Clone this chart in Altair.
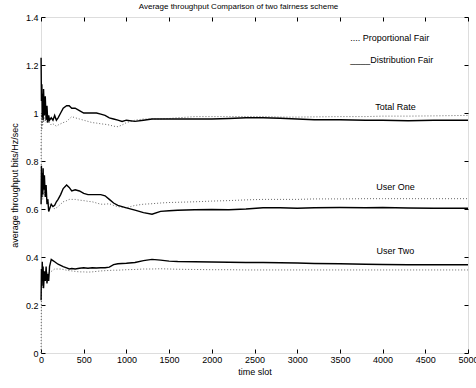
import altair as alt
import pandas as pd

times = [1, 5, 10, 15, 20, 25, 30, 40, 50, 60, 70, 80, 90, 100, 120, 140, 160, 180, 200,
         230, 260, 300, 330, 360, 400, 450, 500, 550, 600, 650, 700, 750, 800, 850, 900,
         950, 1000, 1100, 1200, 1300, 1400, 1500, 1600, 1800, 2000, 2200, 2400, 2600,
         2800, 3000, 3200, 3500, 3800, 4000, 4300, 4600, 5000]

total_df = [1.23, 1.05, 1.12, 0.98, 1.08, 0.97, 1.10, 0.99, 1.07, 0.97, 1.03, 0.96, 0.99, 0.97,
            0.98, 0.97, 0.99, 0.97, 0.98, 1.00, 1.02, 1.03, 1.03, 1.02, 1.02, 1.01, 1.00, 1.00,
            1.00, 1.00, 0.995, 0.99, 0.98, 0.975, 0.97, 0.965, 0.97, 0.965, 0.97, 0.975, 0.975,
            0.975, 0.975, 0.975, 0.975, 0.977, 0.98, 0.98, 0.978, 0.975, 0.972, 0.972, 0.97,
            0.97, 0.968, 0.97, 0.97]
total_pf = [0.85, 1.00, 0.93, 0.98, 0.95, 0.99, 0.96, 0.98, 0.97, 0.96, 0.97, 0.96, 0.97, 0.96,
            0.95, 0.955, 0.95, 0.945, 0.95, 0.955, 0.96, 0.965, 0.975, 0.985, 0.98, 0.975, 0.97,
            0.965, 0.96, 0.958, 0.955, 0.953, 0.95, 0.945, 0.943, 0.95, 0.96, 0.97, 0.975, 0.975,
            0.975, 0.977, 0.98, 0.985, 0.985, 0.985, 0.985, 0.985, 0.983, 0.983, 0.984, 0.985,
            0.985, 0.987, 0.987, 0.988, 0.99]
one_df = [0.62, 0.78, 0.65, 0.75, 0.66, 0.77, 0.68, 0.74, 0.65, 0.70, 0.62, 0.64, 0.59, 0.60,
          0.62, 0.61, 0.615, 0.63, 0.64, 0.66, 0.685, 0.70, 0.69, 0.675, 0.68, 0.675, 0.665,
          0.66, 0.66, 0.66, 0.66, 0.655, 0.64, 0.625, 0.615, 0.61, 0.605, 0.595, 0.585, 0.578,
          0.59, 0.593, 0.595, 0.597, 0.598, 0.597, 0.60, 0.605, 0.605, 0.603, 0.605, 0.606,
          0.605, 0.606, 0.604, 0.603, 0.603]
one_pf = [0.85, 0.72, 0.68, 0.70, 0.64, 0.69, 0.66, 0.67, 0.65, 0.66, 0.63, 0.64, 0.62, 0.62,
          0.615, 0.61, 0.60, 0.605, 0.61, 0.62, 0.63, 0.635, 0.64, 0.64, 0.64, 0.637, 0.635,
          0.632, 0.63, 0.625, 0.62, 0.62, 0.622, 0.615, 0.61, 0.607, 0.605, 0.615, 0.62, 0.622,
          0.625, 0.627, 0.628, 0.63, 0.633, 0.635, 0.638, 0.64, 0.64, 0.64, 0.642, 0.642,
          0.643, 0.643, 0.643, 0.643, 0.643]
two_df = [0.22, 0.35, 0.28, 0.38, 0.30, 0.36, 0.27, 0.34, 0.30, 0.36, 0.29, 0.33, 0.30, 0.36,
          0.39, 0.385, 0.38, 0.375, 0.37, 0.365, 0.36, 0.355, 0.35, 0.352, 0.35, 0.353, 0.355,
          0.353, 0.355, 0.354, 0.355, 0.355, 0.358, 0.368, 0.372, 0.373, 0.374, 0.377, 0.385,
          0.39, 0.387, 0.383, 0.381, 0.38, 0.379, 0.378, 0.377, 0.377, 0.376, 0.375, 0.373,
          0.372, 0.37, 0.369, 0.368, 0.368, 0.368]
two_pf = [0.0, 0.25, 0.30, 0.27, 0.32, 0.29, 0.31, 0.32, 0.33, 0.32, 0.33, 0.335, 0.33, 0.335,
          0.34, 0.345, 0.35, 0.35, 0.35, 0.35, 0.348, 0.345, 0.343, 0.342, 0.34, 0.338, 0.338,
          0.337, 0.338, 0.34, 0.342, 0.343, 0.344, 0.345, 0.345, 0.346, 0.347, 0.348, 0.35,
          0.35, 0.351, 0.35, 0.349, 0.348, 0.347, 0.347, 0.346, 0.346, 0.346, 0.346, 0.346,
          0.346, 0.346, 0.346, 0.346, 0.346, 0.346]

x_ticks = [0, 500, 1000, 1500, 2000, 2500, 3000, 3500, 4000, 4500, 5000]
y_ticks = [0, 0.2, 0.4, 0.6, 0.8, 1.0, 1.2, 1.4]

labels = ["Total Rate", "User One", "User Two"]
label_t = [4150, 4150, 4150]
label_v = [1.025, 0.69, 0.426]

legend_text = [".... Proportional Fair", "____Distribution Fair"]
legend_t = [3620, 3620]
legend_v = [1.314, 1.22]

title = "Average throughput Comparison of two fairness scheme"

FONT = "Liberation Sans"

rows_df, rows_pf = [], []
for name, dfv, pfv in [("total", total_df, total_pf), ("one", one_df, one_pf), ("two", two_df, two_pf)]:
    for t, a, b in zip(times, dfv, pfv):
        rows_df.append({"t": t, "v": a, "s": name})
        rows_pf.append({"t": t, "v": b, "s": name})
df_df = pd.DataFrame(rows_df)
df_pf = pd.DataFrame(rows_pf)
lab = pd.DataFrame({"t": label_t, "v": label_v, "txt": labels})
leg = pd.DataFrame({"t": legend_t, "v": legend_v, "txt": legend_text})

xs = alt.Scale(domain=[0, 5000], nice=False, zero=False)
ys = alt.Scale(domain=[0, 1.4], nice=False)

common_axis = dict(offset=-4, tickSize=4, domain=False, grid=False, tickColor="black",
                   labelFont=FONT, labelFontSize=9, labelColor="black",
                   titleFont=FONT, titleFontSize=9, titleColor="black", titleFontWeight="normal")

pf = alt.Chart(df_pf).mark_line(color="#666666", strokeWidth=1, strokeDash=[1, 2]).encode(
    x=alt.X("t:Q", scale=xs, axis=alt.Axis(orient="bottom", values=x_ticks, format="d",
                                           labelPadding=2, title="time slot", titlePadding=3,
                                           labelFlush=False, labelOverlap=False, **common_axis)),
    y=alt.Y("v:Q", scale=ys, axis=alt.Axis(orient="left", values=y_ticks, format=".1~f",
                                           labelPadding=3, title="average throughput bits/Hz/sec",
                                           titlePadding=6, labelFlush=False, **common_axis)),
    detail="s:N",
)

dfl = alt.Chart(df_df).mark_line(color="black", strokeWidth=1.4).encode(
    x=alt.X("t:Q", scale=xs, axis=alt.Axis(orient="top", values=x_ticks, labels=False, title=None,
                                           offset=-4, tickSize=4, domain=False, grid=False,
                                           tickColor="black")),
    y=alt.Y("v:Q", scale=ys, axis=alt.Axis(orient="right", values=y_ticks, labels=False, title=None,
                                           offset=-4, tickSize=4, domain=False, grid=False,
                                           tickColor="black")),
    detail="s:N",
)

txt = alt.Chart(lab).mark_text(font=FONT, fontSize=9, color="black", align="center",
                               baseline="middle").encode(
    x=alt.X("t:Q", scale=xs, axis=None), y=alt.Y("v:Q", scale=ys, axis=None), text="txt:N")

legt = alt.Chart(leg).mark_text(font=FONT, fontSize=9, color="black", align="left",
                                baseline="middle").encode(
    x=alt.X("t:Q", scale=xs, axis=None), y=alt.Y("v:Q", scale=ys, axis=None), text="txt:N")

chart = alt.layer(pf, dfl, txt, legt).resolve_axis(x="independent", y="independent").properties(
    width=427, height=336,
    autosize=alt.AutoSizeParams(type="none"),
    padding={"left": 41, "top": 17, "right": 8, "bottom": 35},
    title=alt.Title(title, font=FONT, fontSize=8, fontWeight="normal", color="black",
                    anchor="middle", offset=2, dx=-16),
).configure_view(stroke="black", strokeWidth=1).configure(background="white")

chart.save("out.html", embed_options={"renderer": "svg", "actions": False})
